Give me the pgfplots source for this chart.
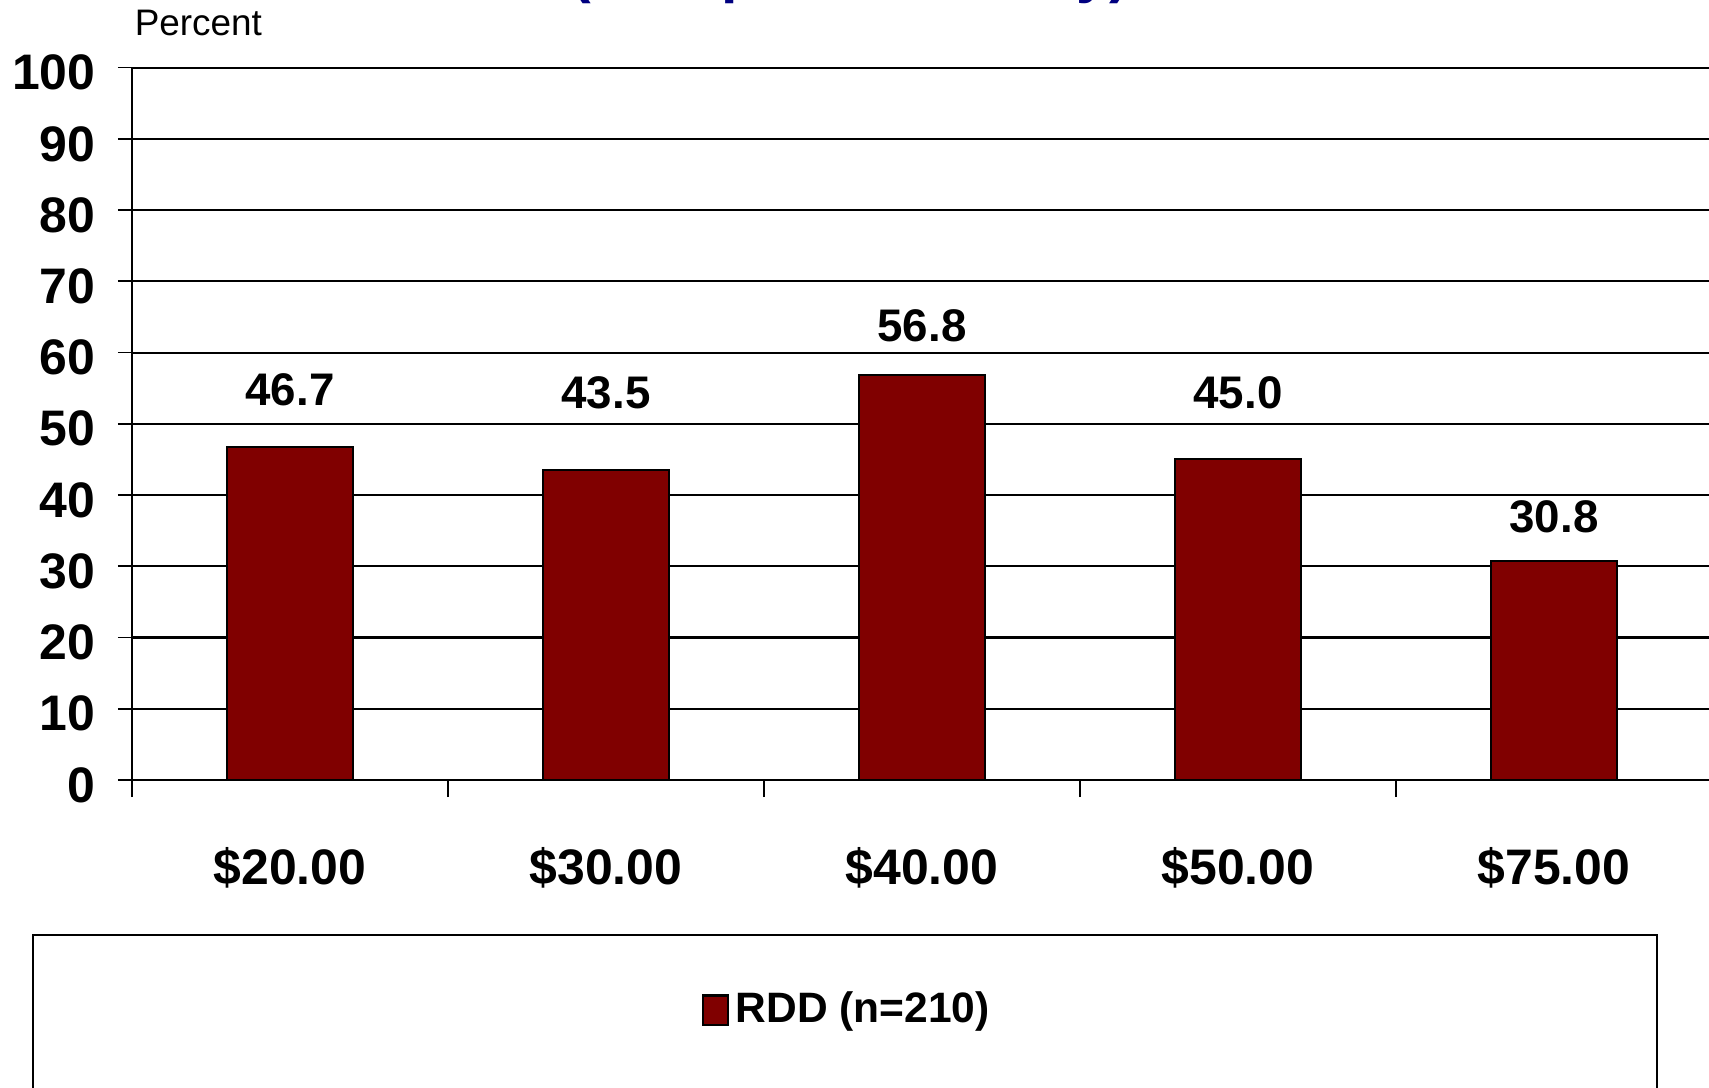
\documentclass[border=0pt]{standalone}
\usepackage{pgfplots}
\pgfplotsset{compat=1.18}
\usepackage{fontspec}
\setmainfont{Liberation Sans}
\definecolor{barred}{HTML}{800000}
\definecolor{titleblue}{HTML}{000080}
\begin{document}
\begin{tikzpicture}
  \useasboundingbox (0,0) rectangle (17.09,10.87);
  \clip (0,0) rectangle (17.09,10.87);
  % title, mostly cut off at the top of the picture
  \node[anchor=base, inner sep=0pt, text=titleblue,
        font=\fontsize{16.8}{20}\selectfont\bfseries] at (8.50,10.96) {(Completed Survey)};
  % legend frame
  \draw[line width=0.7pt] (0.33,1.52) rectangle (16.57,-0.6);
  \begin{axis}[
    at={(1.32cm,3.07cm)}, anchor=south west,
    scale only axis,
    width=15.80cm, height=7.124cm,
    clip=false,
    xmin=-0.5, xmax=4.5,
    ymin=0, ymax=100,
    axis lines*=left,
    axis line style={line width=0.6pt},
    xtick={0,1,2,3,4},
    xticklabels={\$20.00,\$30.00,\$40.00,\$50.00,\$75.00},
    minor xtick={-0.5,0.5,1.5,2.5,3.5},
    major x tick style={draw=none},
    ytick={0,10,...,100},
    tick align=outside,
    major tick length=0.14cm,
    minor tick length=0.17cm,
    tick style={black, line width=0.5pt},
    ymajorgrids,
    grid style={black, line width=0.6pt},
    xticklabel style={anchor=base, inner sep=0pt, yshift=-0.90cm,
                      font=\fontsize{14.2}{17}\selectfont\bfseries},
    yticklabel style={anchor=east, inner sep=0pt, xshift=-0.22cm, yshift=-0.05cm,
                      font=\fontsize{14.2}{17}\selectfont\bfseries},
    /pgf/number format/assume math mode=true,
    ylabel={Percent},
    ylabel style={rotate=-90, at={(axis description cs:0.0013,1.0626)},
                  anchor=west, inner sep=0pt,
                  font=\fontsize{10.5}{12}\selectfont},
    legend style={at={(axis description cs:0.3600,-0.3229)}, anchor=west,
                  draw=none, fill=none, inner sep=0pt,
                  font=\fontsize{12.1}{14}\selectfont\bfseries},
    legend image code/.code={\draw[fill=barred, draw=black, line width=0.6pt]
                             (0cm,-0.145cm) rectangle (0.25cm,0.145cm);},
  ]
    \addplot[ybar, bar width=1.26cm, fill=barred, draw=black, line width=0.6pt]
      coordinates {(0,46.7) (1,43.5) (2,56.8) (3,45.0) (4,30.8)};
    \addlegendentry{RDD (n=210)}
    % value labels, placed as in the reference
    \addplot[draw=none, mark=none, forget plot,
             nodes near coords, point meta=explicit symbolic,
             every node near coord/.append style={anchor=base, inner sep=0pt,
               font=\fontsize{13}{15}\selectfont\bfseries}]
      coordinates {(0,52.6)[46.7] (1,52.2)[43.5] (2,61.5)[56.8] (3,52.2)[45.0] (4,34.8)[30.8]};
  \end{axis}
\end{tikzpicture}
\end{document}
